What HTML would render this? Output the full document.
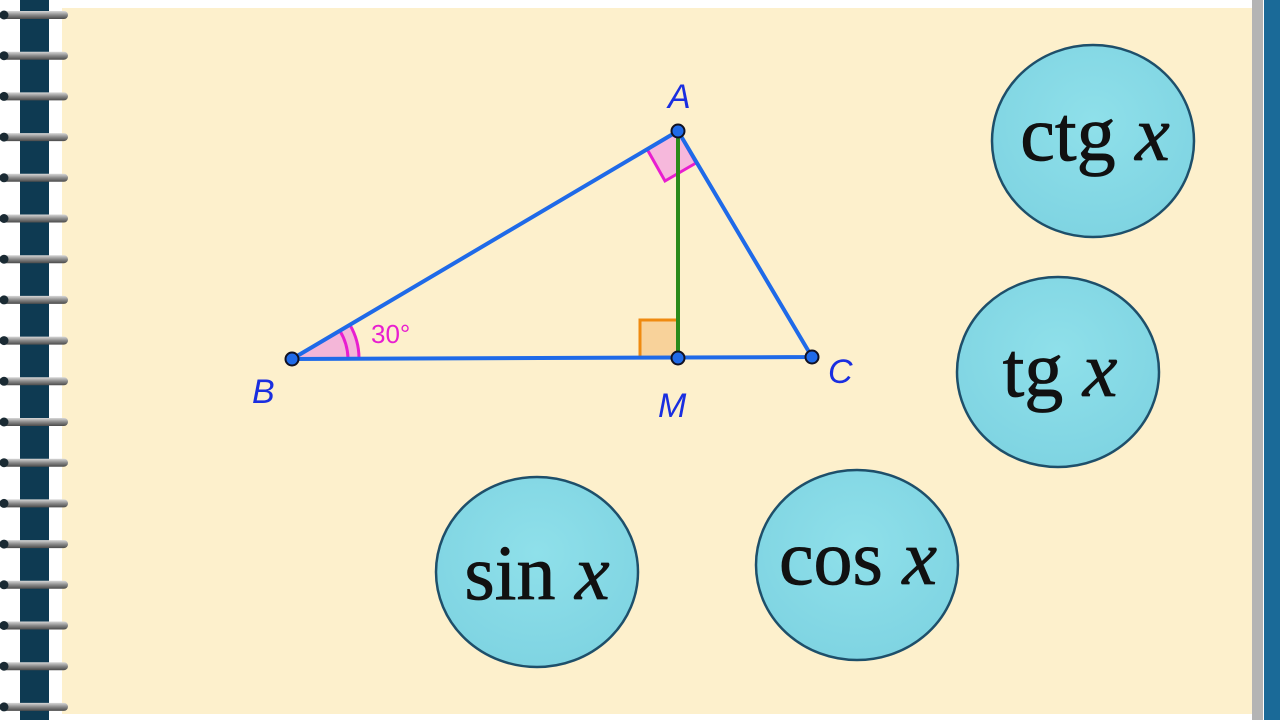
<!DOCTYPE html>
<html><head><meta charset="utf-8"><style>
html,body{margin:0;padding:0;width:1280px;height:720px;overflow:hidden;background:#fff}
svg{display:block}
.lbl{font-family:"Liberation Sans",sans-serif;font-style:italic;font-size:34px;fill:#1a2ee0}
.fn{font-family:"Liberation Serif",serif;font-size:78px;fill:#111;stroke:#111;stroke-width:0.8}
</style></head><body>
<svg width="1280" height="720" viewBox="0 0 1280 720">
<defs>
<linearGradient id="ring" x1="0" y1="0" x2="0" y2="1">
<stop offset="0" stop-color="#d8d8d8"/><stop offset="0.5" stop-color="#8a8a8a"/><stop offset="1" stop-color="#4a4a4a"/>
</linearGradient>
<radialGradient id="ball" cx="0.5" cy="0.4" r="0.6">
<stop offset="0" stop-color="#8fe0ea"/><stop offset="1" stop-color="#7fd4e2"/>
</radialGradient>
</defs>
<rect x="0" y="0" width="1280" height="720" fill="#fff"/>
<rect x="62" y="8" width="1190" height="706" fill="#fdf0cc"/>
<rect x="20" y="0" width="29" height="720" fill="#0e3a52"/>
<rect x="1252" y="0" width="11" height="720" fill="#b4b4b4"/>
<rect x="1264" y="0" width="16" height="720" fill="#1a6a98"/>
<g id="rings"></g>

<g>
<path d="M292,359 L351,325 A68,68 0 0,1 360,358 Z" fill="#f4b6d8"/>
<path d="M340,331 A56,56 0 0,1 348,358" fill="none" stroke="#e81ed0" stroke-width="3"/>
<path d="M350,325 A67,67 0 0,1 359,358" fill="none" stroke="#e81ed0" stroke-width="3"/>
<text x="371" y="343" font-family="Liberation Sans,sans-serif" font-size="26" fill="#e81ed0">30°</text>
<path d="M678,131 L647,149 L665,181 L696,163 Z" fill="#f6b8dc" stroke="#e81ed0" stroke-width="3"/>
<rect x="640" y="320" width="38" height="38" fill="#f8d29a" stroke="#ef8a10" stroke-width="3"/>
<line x1="678" y1="131" x2="678" y2="358" stroke="#2a8a1a" stroke-width="4"/>
<path d="M292,359 L678,131 L812,357 Z" fill="none" stroke="#1f6ae8" stroke-width="4" stroke-linejoin="round"/>
<circle cx="678" cy="131" r="6.5" fill="#1f6ae8" stroke="#112" stroke-width="2"/>
<circle cx="292" cy="359" r="6.5" fill="#1f6ae8" stroke="#112" stroke-width="2"/>
<circle cx="812" cy="357" r="6.5" fill="#1f6ae8" stroke="#112" stroke-width="2"/>
<circle cx="678" cy="358" r="6.5" fill="#1f6ae8" stroke="#112" stroke-width="2"/>
<text class="lbl" x="668" y="108">A</text>
<text class="lbl" x="252" y="403">B</text>
<text class="lbl" x="828" y="383">C</text>
<text class="lbl" x="658" y="417">M</text>
</g>

<g>
<ellipse cx="1093" cy="141" rx="101" ry="96" fill="url(#ball)" stroke="#1e4f6a" stroke-width="2.5"/>
<text class="fn" x="1095" y="160" text-anchor="middle">ctg <tspan font-style="italic">x</tspan></text>
</g>
<g>
<ellipse cx="1058" cy="372" rx="101" ry="95" fill="url(#ball)" stroke="#1e4f6a" stroke-width="2.5"/>
<text class="fn" x="1060" y="396" text-anchor="middle">tg <tspan font-style="italic">x</tspan></text>
</g>
<g>
<ellipse cx="537" cy="572" rx="101" ry="95" fill="url(#ball)" stroke="#1e4f6a" stroke-width="2.5"/>
<text class="fn" x="537" y="599" text-anchor="middle">sin <tspan font-style="italic">x</tspan></text>
</g>
<g>
<ellipse cx="857" cy="565" rx="101" ry="95" fill="url(#ball)" stroke="#1e4f6a" stroke-width="2.5"/>
<text class="fn" x="858" y="584" text-anchor="middle">cos <tspan font-style="italic">x</tspan></text>
</g>
</svg>
<script>
const g=document.getElementById('rings');
const ns='http://www.w3.org/2000/svg';
for(let y=15;y<720;y+=40.7){
  const r=document.createElementNS(ns,'rect');
  
  
  r.setAttribute('x','2');r.setAttribute('y',(y-4).toFixed(1));
  r.setAttribute('width','66');r.setAttribute('height','8');r.setAttribute('rx','4');
  r.setAttribute('fill','url(#ring)');
  g.appendChild(r);
  const c=document.createElementNS(ns,'circle');
  
  
  c.setAttribute('cx','4');c.setAttribute('cy',y.toFixed(1));c.setAttribute('r','4.5');c.setAttribute('fill','#1a2a33');
  g.appendChild(c);
}
</script>
</body></html>
